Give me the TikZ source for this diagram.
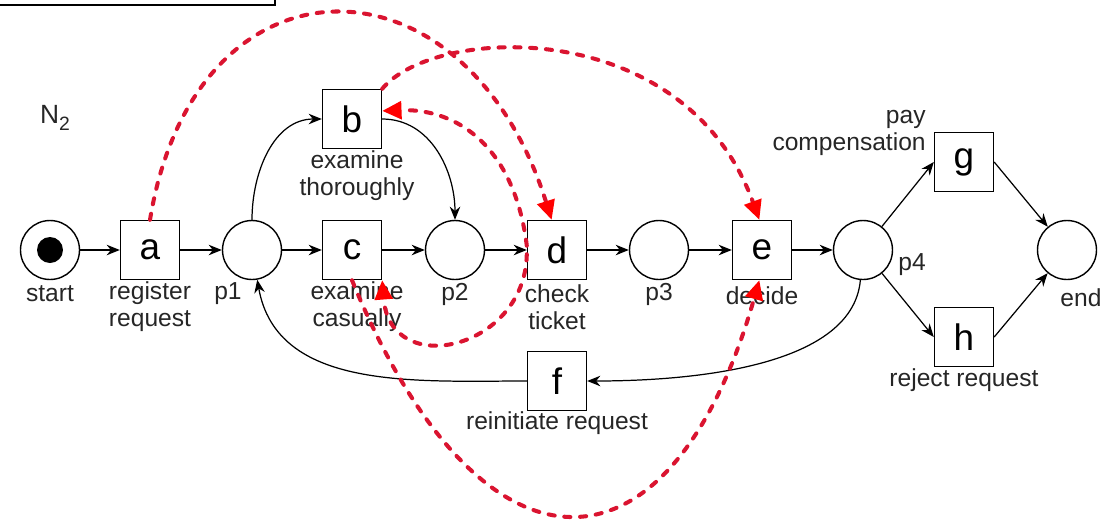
\documentclass[tikz,border=0pt]{standalone}
\usepackage{fontspec}
\setmainfont{Liberation Sans}
\usetikzlibrary{arrows.meta}

\definecolor{dashred}{RGB}{218,20,48}
\tikzset{
  place/.style={draw,circle,minimum size=1.18cm,inner sep=0pt,line width=0.8pt},
  trans/.style={draw,minimum size=1.18cm,inner sep=0pt,line width=0.8pt,
    font=\fontsize{21}{24}\selectfont},
  lbl/.style={align=center,inner sep=0pt,text=black!85,font=\fontsize{14}{15.3}\selectfont},
  flow/.style={-{Stealth[length=7.5pt,width=6pt]},line width=0.7pt},
  redflow/.style={-{Triangle[length=11pt,width=10pt,color=red]},dashred,line width=2.3pt,
    line cap=round,dash pattern=on 3.5pt off 5.5pt},
}

\begin{document}
\begin{tikzpicture}[x=0.02cm,y=-0.02cm]
    \useasboundingbox (0,0) rectangle (1113,522);
    % corner of the frame above
    \draw [line width=0.9pt] (0,5) -| (275,0);
    \path ( 55,118) node [lbl,font=\fontsize{15}{17}\selectfont] (net)
	{N\raisebox{-0.5ex}{\fontsize{11}{11}\selectfont 2}};

    % places and transitions
    \path (  50,250) node [place] (start) {};
    \fill (start.center) circle (0.26cm);
    \path ( 150,250) node [trans] (a) {a};
    \path ( 252,250) node [place] (p1) {};
    \path ( 352,119) node [trans] (b) {b};
    \path ( 352,250) node [trans] (c) {c};
    \path ( 455,250) node [place] (p2) {};
    \path ( 557,250) node [trans] (d) {d};
    \path ( 659,250) node [place] (p3) {};
    \path ( 762,250) node [trans] (e) {e};
    \path ( 863,250) node [place] (p4) {};
    \path ( 964,162) node [trans] (g) {g};
    \path ( 964,337) node [trans] (h) {h};
    \path (1067,250) node [place] (end) {};
    \path ( 557,381) node [trans] (f) {f};

    % labels
    \path (  50,294) node [lbl] (startname) {start};
    \path ( 150,307) node [lbl] (aname) {register\\request};
    \path ( 228,294) node [lbl] (p1name) {p1};
    \path ( 357,176) node [lbl] (bname) {examine\\thoroughly};
    \path ( 357,307) node [lbl] (cname) {examine\\casually};
    \path ( 455,294) node [lbl] (p2name) {p2};
    \path ( 557,307) node [lbl] (dname) {check\\ticket};
    \path ( 659,294) node [lbl] (p3name) {p3};
    \path ( 762,296) node [lbl] (ename) {decide};
    \path ( 912,265) node [lbl] (p4name) {p4};
    \path ( 926,133) node [lbl,anchor=east,align=right] (gname) {pay\\compensation};
    \path ( 964,380) node [lbl] (hname) {reject request};
    \path (1081,298) node [lbl] (endname) {end};
    \path ( 557,423) node [lbl] (fname) {reinitiate request};

    % arcs of the net
    \draw [flow] (start) -- (a);
    \draw [flow] (a) -- (p1);
    \draw [flow] (p1) -- (c);
    \draw [flow] (c) -- (p2);
    \draw [flow] (p2) -- (d);
    \draw [flow] (d) -- (p3);
    \draw [flow] (p3) -- (e);
    \draw [flow] (e) -- (p4);
    \draw [flow] (p1) to [out=90,in=180] (b);
    \draw [flow] (b) to [out=0,in=90] (p2);
    \draw [flow] (p4) -- (g.west);
    \draw [flow] (g.east) -- (end);
    \draw [flow] (p4) -- (h.west);
    \draw [flow] (h.east) -- (end);
    \draw [flow] (p4) to [out=-95,in=0,looseness=0.8] (f);
    \draw [flow] (f) to [out=180,in=-80] (p1);

    % red dashed moves
    \draw [redflow] (a.north) .. controls (195,-55) and (465,-55) .. (d.100);
    \draw [redflow] (d.172) .. controls (515,150) and (460,108) .. (b.15);
    \draw [redflow] (b.north east) .. controls (435,25) and (685,15) .. (e.95);
    \draw [redflow] (d.188) .. controls (525,350) and (390,380) .. (c.south east);
    \draw [redflow] (c.south) .. controls (480,593) and (670,593) .. (e.265);
\end{tikzpicture}
\end{document}
